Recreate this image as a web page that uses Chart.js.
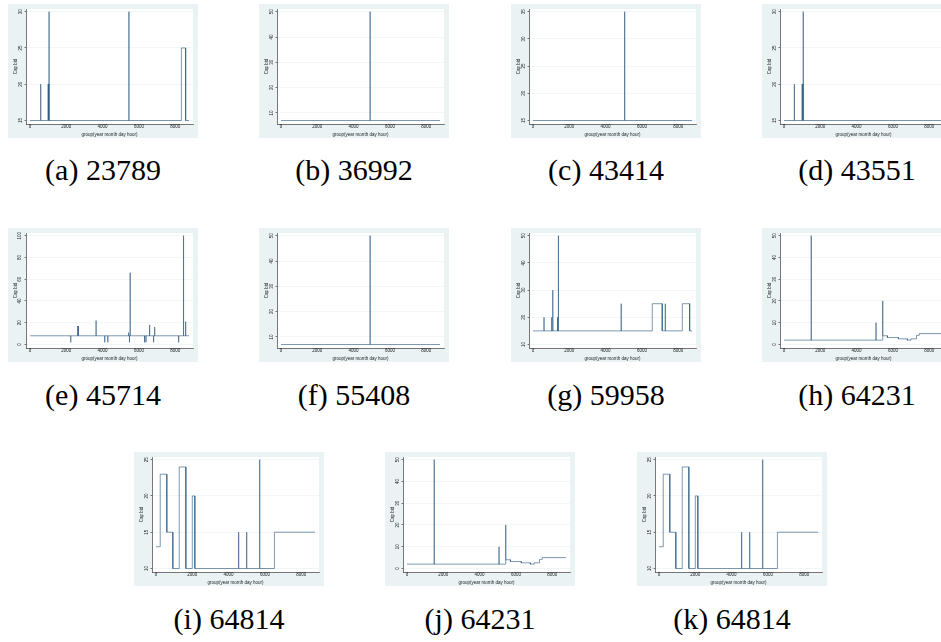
<!DOCTYPE html>
<html><head><meta charset="utf-8">
<script src="https://cdn.jsdelivr.net/npm/chart.js@4.4.1/dist/chart.umd.min.js"></script>
<style>
html,body{margin:0;padding:0;background:#fff;}
#wrap{position:relative;width:941px;height:642px;overflow:hidden;background:#fff;}
.panel{position:absolute;width:190px;height:134px;background:#eaf2f3;}
.panel canvas{position:absolute;left:0;top:0;}
.cap{position:absolute;width:240px;text-align:center;font-family:"Liberation Serif","DejaVu Serif",serif;font-size:30px;line-height:30px;color:#000;white-space:nowrap;}
</style></head><body>
<div id="wrap"></div>
<script>
// ---- data ----
const xTicks = [0, 2000, 4000, 6000, 8000];

const a_x = [0, 589, 590, 591, 985, 986, 1030, 1031, 1049, 1050, 1051, 5449, 5450, 5451, 8340, 8341, 8575, 8576, 8760];
const a_y = [15, 15, 20, 15, 15, 20, 20, 15, 15, 30, 15, 15, 30, 15, 15, 25, 25, 15, 15];
const a_yTicks = [15, 20, 25, 30];

const b_x = [0, 4909, 4910, 4911, 8760];
const b_y = [7, 7, 50, 7, 7];
const b_yTicks = [10, 20, 30, 40, 50];

const c_x = [0, 5049, 5050, 5051, 8760];
const c_y = [15, 15, 35, 15, 15];
const c_yTicks = [15, 20, 25, 30, 35];

const d_x = [0, 569, 570, 571, 985, 986, 1030, 1031, 1059, 1060, 1061, 8760];
const d_y = [15, 15, 20, 15, 15, 20, 20, 15, 15, 30, 15, 15];
const d_yTicks = [15, 20, 25, 30];

const e_x = [0, 2244, 2245, 2246, 2609, 2610, 2611, 2639, 2640, 2641, 2669, 2670, 2671, 3639, 3640, 3641, 4119, 4120, 4121, 4289, 4290, 4291, 5429, 5430, 5431, 5479, 5480, 5481, 5519, 5520, 5521, 6309, 6310, 6311, 6389, 6390, 6391, 6589, 6590, 6591, 6809, 6810, 6811, 6869, 6870, 6871, 8189, 8190, 8191, 8459, 8460, 8461, 8574, 8575, 8576, 8760];
const e_y = [8, 8, 2, 8, 8, 17, 8, 8, 16, 8, 8, 17, 8, 8, 22, 8, 8, 2, 8, 8, 2, 8, 8, 11, 8, 8, 2, 8, 8, 66, 8, 8, 2, 8, 8, 2, 8, 8, 18, 8, 8, 2, 8, 8, 16, 8, 8, 2, 8, 8, 100, 8, 8, 21, 8, 8];
const e_yTicks = [0, 20, 40, 60, 80, 100];

const f_x = [0, 4909, 4910, 4911, 8760];
const f_y = [7, 7, 50, 7, 7];
const f_yTicks = [10, 20, 30, 40, 50];

const g_x = [0, 606, 607, 608, 1029, 1030, 1031, 1089, 1090, 1091, 1349, 1350, 1351, 1399, 1400, 1401, 4859, 4860, 4861, 6570, 6571, 7120, 7121, 7289, 7290, 7291, 8225, 8226, 8630, 8631, 8760];
const g_y = [15, 15, 20, 15, 15, 20, 15, 15, 30, 15, 15, 20, 15, 15, 50, 15, 15, 25, 15, 15, 25, 25, 15, 15, 25, 15, 15, 25, 25, 15, 15];
const g_yTicks = [10, 20, 30, 40, 50];

const h_x = [0, 1499, 1500, 1501, 5069, 5070, 5071, 5439, 5440, 5441, 5700, 5701, 6300, 6301, 6800, 6801, 7000, 7001, 7300, 7301, 7450, 7451, 8760];
const h_y = [2, 2, 50, 2, 2, 10, 2, 2, 20, 4, 4, 3.2, 3.2, 2.6, 2.6, 2.0, 2.0, 2.6, 2.6, 4.2, 4.2, 5, 5];
const h_yTicks = [0, 10, 20, 30, 40, 50];

const i_x = [0, 231, 232, 595, 596, 926, 927, 1279, 1280, 1644, 1645, 1999, 2000, 2139, 2140, 4553, 4554, 4555, 4995, 4996, 4997, 5712, 5713, 5714, 6524, 6525, 8760];
const i_y = [13, 13, 23, 23, 15, 15, 10, 10, 24, 24, 10, 10, 20, 20, 10, 10, 15, 10, 10, 15, 10, 10, 25, 10, 10, 15, 15];
const i_yTicks = [10, 15, 20, 25];

const j_x = h_x, j_y = h_y, j_yTicks = h_yTicks;
const k_x = i_x, k_y = i_y, k_yTicks = i_yTicks;

const captions = ['(a) 23789', '(b) 36992', '(c) 43414', '(d) 43551', '(e) 45714', '(f) 55408', '(g) 59958', '(h) 64231', '(i) 64814', '(j) 64231', '(k) 64814'];

// ---- layout ----
const panelPos = [[8,4],[259,4],[511,4],[762,4],[8,228],[259,228],[511,228],[762,228],[134,452],[385,452],[637,452]];
const capTop = [155, 155, 155, 155, 380, 380, 380, 380, 604, 604, 604];
const series = [[a_x,a_y,a_yTicks],[b_x,b_y,b_yTicks],[c_x,c_y,c_yTicks],[d_x,d_y,d_yTicks],[e_x,e_y,e_yTicks],[f_x,f_y,f_yTicks],[g_x,g_y,g_yTicks],[h_x,h_y,h_yTicks],[i_x,i_y,i_yTicks],[j_x,j_y,j_yTicks],[k_x,k_y,k_yTicks]];

const plotBg = {
  id:'plotBg',
  beforeDraw(chart){
    const {ctx, chartArea:a} = chart;
    ctx.save(); ctx.fillStyle='#ffffff';
    ctx.fillRect(a.left, a.top, a.right-a.left, a.bottom-a.top);
    ctx.restore();
  }
};

const wrap = document.getElementById('wrap');
const tickFont = {family:'"Liberation Sans", Arial, sans-serif', size:4.5};

series.forEach((s, idx) => {
  const [xs, ys, yt] = s;
  const [L, T] = panelPos[idx];
  const div = document.createElement('div');
  div.className = 'panel'; div.style.left = L+'px'; div.style.top = T+'px';
  const cv = document.createElement('canvas');
  cv.width = 190; cv.height = 134;
  div.appendChild(cv); wrap.appendChild(div);

  const cap = document.createElement('div');
  cap.className = 'cap';
  cap.style.left = (L + 95 - 120) + 'px';
  cap.style.top = capTop[idx] + 'px';
  cap.textContent = captions[idx];
  wrap.appendChild(cap);

  const lo = Math.min(Math.min(...ys), yt[0]);
  const hi = Math.max(Math.max(...ys), yt[yt.length-1]);
  const span = hi - lo;
  const yMin = lo - span * 3.5 / 108.8;
  const yMax = hi + span * 2.7 / 108.8;

  new Chart(cv, {
    type:'line',
    data:{datasets:[{
      data: xs.map((x,i)=>({x:x, y:ys[i]})),
      borderColor:'rgba(40,85,125,0.6)', borderWidth:1, pointRadius:0, tension:0, fill:false
    }]},
    options:{
      responsive:false, animation:false, devicePixelRatio:1,
      layout:{padding:{left:0, right:5, top:5, bottom:0}},
      plugins:{legend:{display:false}, tooltip:{enabled:false}},
      scales:{
        x:{type:'linear', min:-221, max:8981,
          afterBuildTicks: sc => { sc.ticks = xTicks.map(v=>({value:v})); },
          afterFit: sc => { sc.height = 14; },
          ticks:{font:tickFont, color:'#222', padding:-1, maxRotation:0, minRotation:0, autoSkip:false, callback: v => String(v)},
          grid:{display:true, drawOnChartArea:false, drawTicks:true, tickLength:1.5, tickColor:'#555', lineWidth:0.6},
          border:{display:true, color:'#555', width:0.8},
          title:{display:true, text:'group(year month day hour)', font:tickFont, color:'#222', padding:{top:0,bottom:0.5}}
        },
        y:{type:'linear', min:yMin, max:yMax,
          afterBuildTicks: sc => { sc.ticks = yt.map(v=>({value:v})); },
          afterFit: sc => { sc.width = 18; },
          ticks:{font:tickFont, color:'#222', padding:1.3, minRotation:90, maxRotation:90, crossAlign:'center', autoSkip:false, callback: v => String(v)},
          grid:{display:true, drawOnChartArea:true, drawTicks:true, tickLength:1.5, color:'#eef4f5', tickColor:'#555', lineWidth:0.8},
          border:{display:true, color:'#555', width:0.8},
          title:{display:true, text:'Cap bid', font:tickFont, color:'#222', padding:{top:5,bottom:0}}
        }
      }
    },
    plugins:[plotBg]
  });
});
</script>
</body></html>
